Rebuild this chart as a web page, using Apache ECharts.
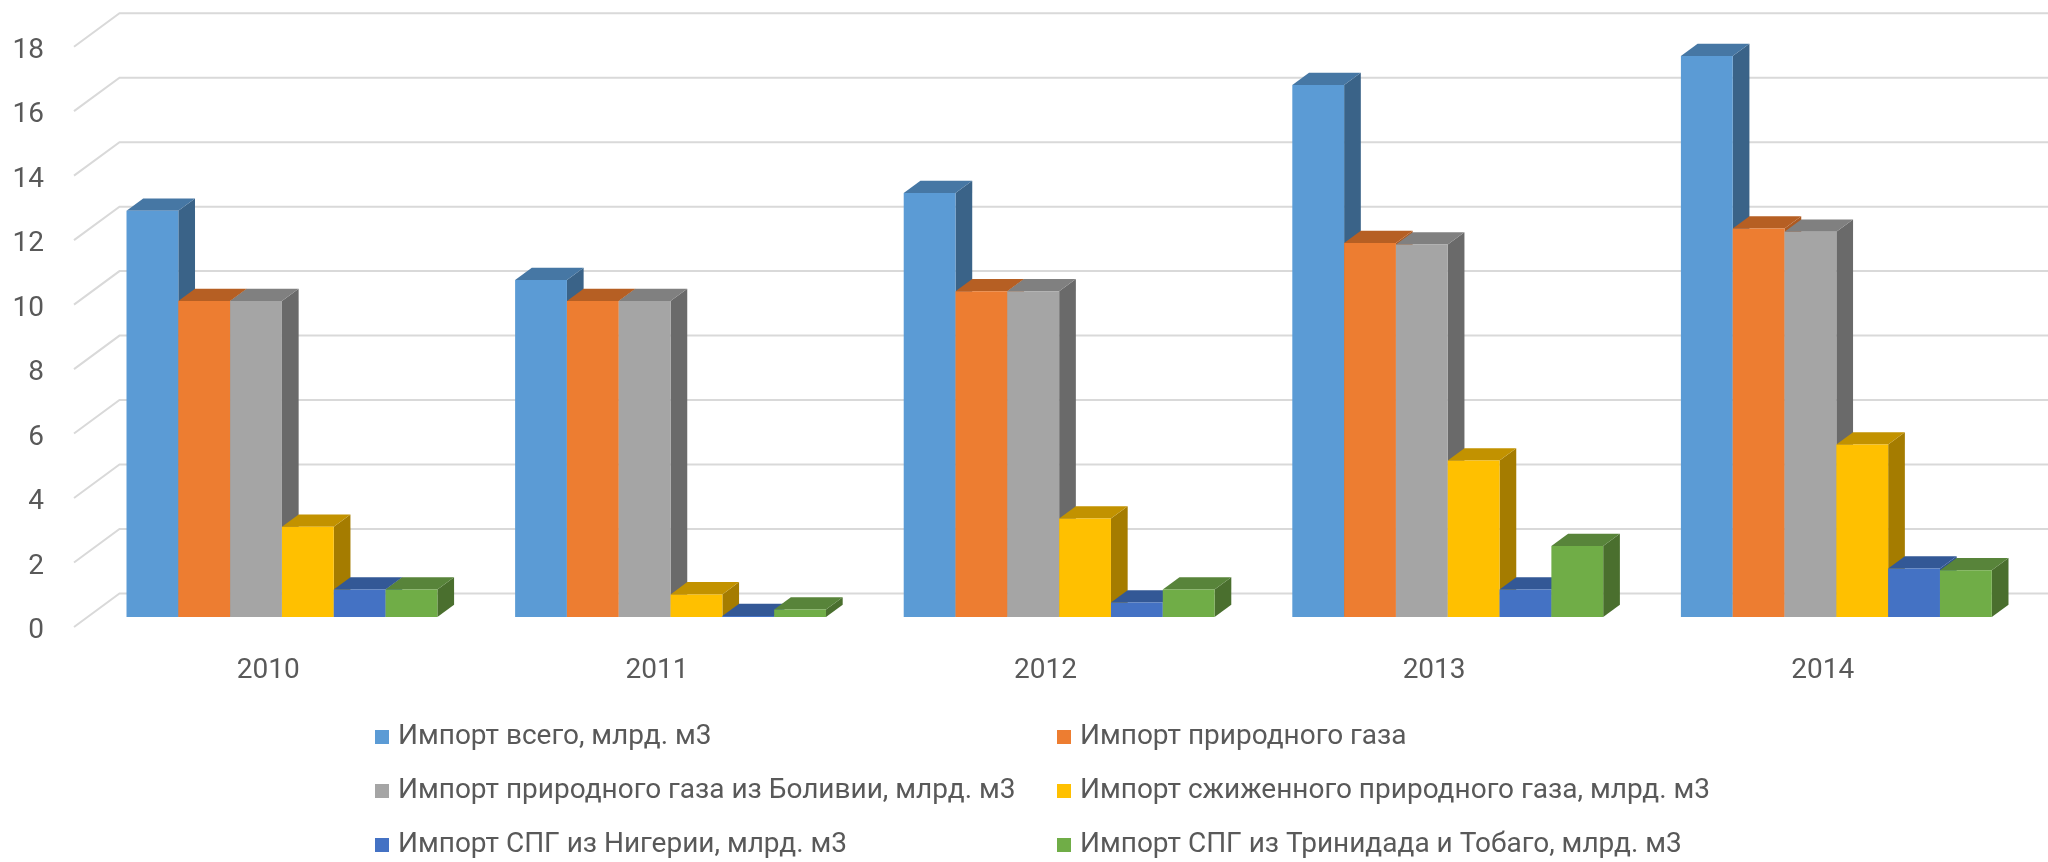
<!DOCTYPE html>
<html>
<head>
<meta charset="utf-8">
<script src="https://cdn.jsdelivr.net/npm/echarts@6/dist/echarts.min.js"></script>
<style>
  html, body { margin: 0; padding: 0; background: #fff; }
  #chart { width: 2048px; height: 862px; }
</style>
</head>
<body>
<div id="chart"></div>
<script>
// data
const years = ['2010', '2011', '2012', '2013', '2014'];
const yTicks = [0, 2, 4, 6, 8, 10, 12, 14, 16, 18];

const importTotal = [12.6, 10.45, 13.15, 16.5, 17.4];
const importNatGas = [9.8, 9.8, 10.1, 11.6, 12.05];
const importBolivia = [9.8, 9.8, 10.1, 11.55, 11.95];
const importLng = [2.8, 0.7, 3.05, 4.85, 5.35];
const importNigeria = [0.85, 0.03, 0.45, 0.85, 1.5];
const importTrinidad = [0.85, 0.23, 0.85, 2.2, 1.45];

const names = [
  'Импорт всего, млрд. м3',
  'Импорт природного газа',
  'Импорт природного газа из Боливии, млрд. м3',
  'Импорт сжиженного природного газа, млрд. м3',
  'Импорт СПГ из Нигерии, млрд. м3',
  'Импорт СПГ из Тринидада и Тобаго, млрд. м3'
];
const values = [importTotal, importNatGas, importBolivia, importLng, importNigeria, importTrinidad];

// face colours: front, top, side
const colors = [
  ['#5B9BD5', '#4677A4', '#3A6388'],
  ['#ED7D31', '#B65F23', '#AE5A21'],
  ['#A5A5A5', '#808080', '#6A6A6A'],
  ['#FFC000', '#C29200', '#A57C00'],
  ['#4472C4', '#335896', '#2F528F'],
  ['#70AD47', '#58843A', '#4A6F2E']
];

// 3d look: floor depth in px, bars sit between FRONT and BACK of it
const DX = 45.5, DY = 33.5;
const FRONT = 0.3, BACK = 0.667;
const GAP = 0.8; // part of a category taken by the bar group

let chartDom = document.getElementById('chart');
let myChart = echarts.init(chartDom);

function barItem(i) {
  return function (params, api) {
    let cat = api.value(0);
    let v = api.value(1);
    let base = api.coord([cat, 0]);
    let top = api.coord([cat, v]);
    let band = api.size([1, 0])[0];
    let bw = band * GAP / values.length;
    let x0 = base[0] - band * GAP / 2 + i * bw + FRONT * DX;
    let x1 = x0 + bw;
    let y0 = base[1] - FRONT * DY;
    let y1 = top[1] - FRONT * DY;
    let bx = (BACK - FRONT) * DX, by = (BACK - FRONT) * DY;
    return {
      type: 'group',
      children: [
        {
          type: 'polygon',
          shape: { points: [[x1, y1], [x1 + bx, y1 - by], [x1 + bx, y0 - by], [x1, y0]] },
          style: { fill: colors[i][2] }
        },
        {
          type: 'polygon',
          shape: { points: [[x0, y1], [x1, y1], [x1 + bx, y1 - by], [x0 + bx, y1 - by]] },
          style: { fill: colors[i][1] }
        },
        {
          type: 'rect',
          shape: { x: x0, y: y1, width: bw, height: y0 - y1 },
          style: { fill: colors[i][0] }
        }
      ]
    };
  };
}

// back wall grid lines + diagonal on the side wall
function gridItem(params, api) {
  let y = api.coord([0, api.value(1)])[1];
  let left = params.coordSys.x;
  return {
    type: 'polyline',
    shape: { points: [[left, y], [left + DX, y - DY], [2100, y - DY]] },
    style: { stroke: '#D9D9D9', lineWidth: 2, fill: null }
  };
}

let series = [{
  type: 'custom',
  name: 'grid',
  silent: true,
  z: 1,
  renderItem: gridItem,
  data: yTicks.map(v => [0, v])
}];

names.forEach((name, i) => {
  series.push({
    type: 'custom',
    name: name,
    z: 2 + i,
    itemStyle: { color: colors[i][0] },
    renderItem: barItem(i),
    data: years.map((y, j) => [j, values[i][j]])
  });
});

const textCol = '#595959';
const legendText = { color: textCol, fontSize: 28, fontFamily: 'Roboto', lineHeight: 30, padding: [0, 0, 0, 4] };

let option = {
  animation: false,
  grid: { left: 74, right: 31, top: 46.7, bottom: 235 },
  legend: [
    {
      orient: 'vertical', left: 375, top: 722, height: 140, padding: 0, itemGap: 24,
      itemWidth: 14, itemHeight: 14, icon: 'rect',
      textStyle: legendText,
      data: [names[0], names[2], names[4]]
    },
    {
      orient: 'vertical', left: 1057, top: 722, height: 140, padding: 0, itemGap: 24,
      itemWidth: 14, itemHeight: 14, icon: 'rect',
      textStyle: legendText,
      data: [names[1], names[3], names[5]]
    }
  ],
  xAxis: {
    type: 'category',
    data: years,
    axisLine: { show: false },
    axisTick: { show: false },
    axisLabel: { color: textCol, fontSize: 28, fontFamily: 'Roboto', margin: 30 }
  },
  yAxis: {
    type: 'value',
    min: 0,
    max: 18,
    interval: 2,
    axisLine: { show: false },
    axisTick: { show: false },
    splitLine: { show: false },
    axisLabel: { color: textCol, fontSize: 28, fontFamily: 'Roboto', margin: 30, verticalAlign: 'top', lineHeight: 8 }
  },
  series: series
};

myChart.setOption(option);
</script>
</body>
</html>
